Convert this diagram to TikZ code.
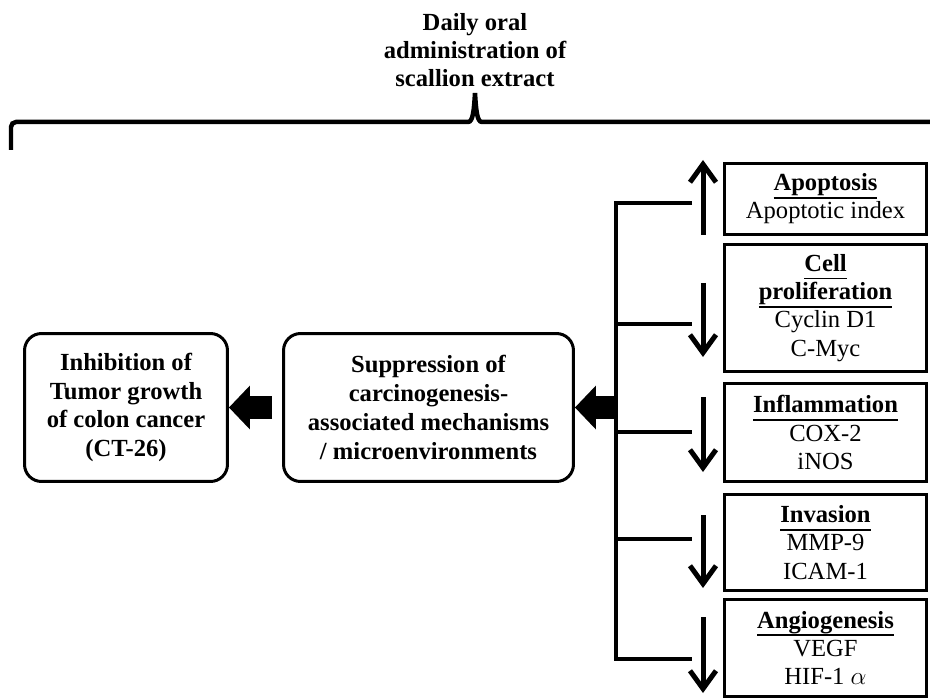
\documentclass[tikz,border=0pt]{standalone}
\usepackage{fontspec}
\setmainfont{Liberation Serif}
\usetikzlibrary{arrows.meta,calc,positioning}

% bold heading with a fixed underline
\newcommand\hd[1]{\setbox0\hbox{\bfseries #1}\leavevmode\rlap{\rule[-4.4pt]{\wd0}{1pt}}\box0}

\begin{document}
\begin{tikzpicture}[
    x=0.02cm, y=-0.02cm,
    line width=0.06cm,
    every node/.style={font=\fontsize{14}{16}\selectfont, align=center, inner sep=0pt},
    rbox/.style={draw, rectangle, minimum width=4.05cm},
    sbox/.style={draw, rounded corners=0.34cm, minimum height=2.96cm,
      font=\fontsize{14}{16.4}\selectfont\bfseries},
    fat/.style={line width=0.46cm, -{Triangle[length=0.42cm,width=0.88cm,line width=0pt]}},
    updown/.style={line width=0.1cm, -{Straight Barb[length=0.36cm,width=0.52cm,line width=0.1cm]}},
    branch/.style={line width=0.065cm},
    brace/.style={line width=0.09cm},
  ]
  \useasboundingbox (0,0) rectangle (930,699);

  % ---- daily dose and its brace --------------------------------------
  \node[font=\fontsize{14}{16}\selectfont\bfseries] (dose) at (475,50)
    {Daily oral\\administration of\\scallion extract};
  \coordinate (tip) at (475,93);
  \draw[brace] (11,150) [rounded corners=0.1cm] -- (11,122) [sharp corners] -- (468,122)
    .. controls (473,122) and (474,110) .. (tip)
    .. controls (476,110) and (477,122) .. (482,122) -- (932,122);

  % ---- outcome boxes -------------------------------------------------
  \node[sbox, minimum width=4.06cm] (res) at (126,407.5)
    {Inhibition of\\Tumor growth\\of colon cancer\\(CT-26)};
  \node[sbox, minimum width=5.8cm] (mid) at (428.5,407.5)
    {Suppression of\\carcinogenesis-\\associated mechanisms\\/ microenvironments};

  % ---- mechanism boxes -----------------------------------------------
  \node[rbox, minimum height=1.42cm] (apop) at (825.5,199)
    {\hd{Apoptosis}\\Apoptotic index};
  \node[rbox, minimum height=2.54cm] (prol) at (825.5,308)
    {\hd{Cell}\\\hd{proliferation}\\Cyclin D1\\C-Myc};
  \node[rbox, minimum height=1.96cm] (infl) at (825.5,432.5)
    {\hd{Inflammation}\\COX-2\\iNOS};
  \node[rbox, minimum height=1.92cm] (inva) at (825.5,542.5)
    {\hd{Invasion}\\MMP-9\\ICAM-1};
  \node[rbox, minimum height=1.94cm] (angi) at (825.5,648)
    {\hd{Angiogenesis}\\VEGF\\HIF-1 $\alpha$};

  % up for apoptosis, down for the rest
  \draw[updown] (703,235) -- (703,160);
  \foreach \ya/\yb in {283/357, 397/472, 515/588, 617/693}
    \draw[updown] (703,\ya) -- (703,\yb);

  % ---- branches into the trunk ---------------------------------------
  \foreach \bx/\by in {apop/203, prol/324, infl/432, inva/539, angi/659} {
    \coordinate (\bx-t) at (616,\by);
    \coordinate (\bx-e) at (692,\by);
  }
  \draw[branch] (apop-e) -- (apop-t) -- (angi-t) -- (angi-e);
  \foreach \bx in {prol, infl, inva}
    \draw[branch] (\bx-t) -- (\bx-e);
  \coordinate (hub) at (617,407.5);

  % ---- block arrows --------------------------------------------------
  \draw[fat] (hub) -- (mid.east);
  \draw[fat] ([xshift=-0.2cm]mid.west) -- (res.east);

\end{tikzpicture}
\end{document}
